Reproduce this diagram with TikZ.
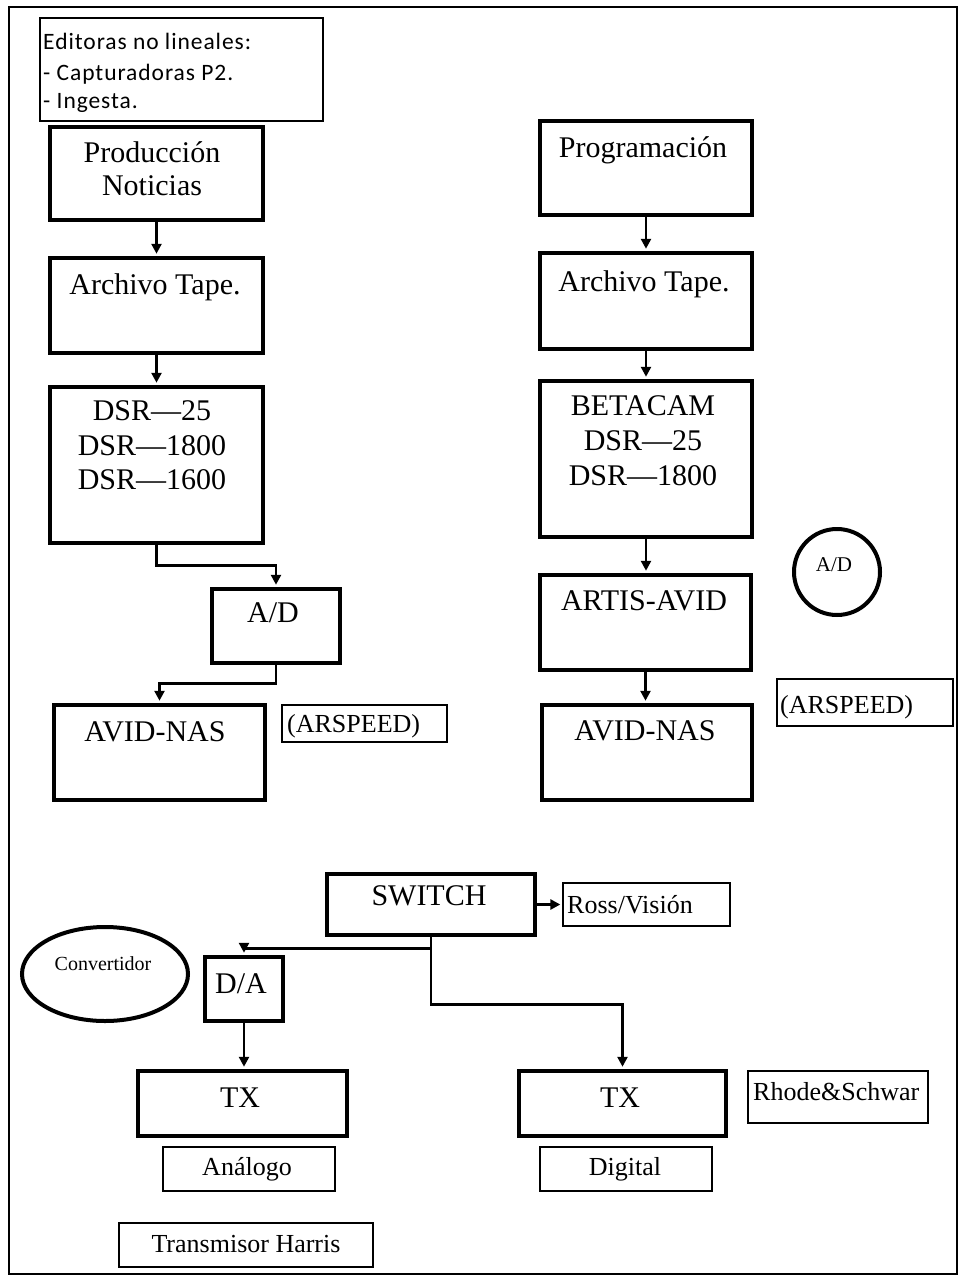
\documentclass[tikz,border=0pt]{standalone}
\usepackage{fontspec}
\setmainfont{Liberation Serif}
\newfontfamily\calfont[LetterSpace=4]{Carlito}
\usetikzlibrary{arrows.meta,fit,shapes.geometric}
\tikzset{
  tbox/.style={draw, line width=4.5pt, inner sep=0pt},
  nbox/.style={draw, line width=1.3pt, inner sep=0pt},
  arr/.style={line width=2.7pt, -{Triangle[length=10pt,width=10pt]}, shorten >=2pt},
  bigtxt/.style={font=\fontsize{30}{34}\selectfont, anchor=base, inner sep=0pt},
  medtxt/.style={font=\fontsize{26}{30}\selectfont, anchor=base, inner sep=0pt},
  medl/.style={medtxt, anchor=base west},
  smalltxt/.style={font=\fontsize{20}{24}\selectfont, anchor=base, inner sep=0pt},
  caltxt/.style={font=\calfont\fontsize{23.5}{29}\selectfont, anchor=base west, inner sep=0pt},
}
\begin{document}
\begin{tikzpicture}[x=1pt,y=-1pt]
\useasboundingbox (0,0) rectangle (959,1277);
\draw[line width=1.5pt] (9,7) rectangle (957,1274);

% thin label boxes
\node[nbox, fit={(40,18)(323,121)}] (ed) {};
\node[nbox, fit={(282,705)(447,742)}] (ars1) {};
\node[nbox, fit={(777,679)(953,726)}] (ars2) {};
\node[nbox, fit={(563,883)(730,926)}] (ross) {};
\node[nbox, fit={(748,1071)(928,1123)}] (rhode) {};
\node[nbox, fit={(163,1147)(335,1191)}] (analog) {};
\node[nbox, fit={(540,1147)(712,1191)}] (digital) {};
\node[nbox, fit={(119,1223)(373,1267)}] (harris) {};

% thick boxes
\node[tbox, fit={(50,127)(263,220)}] (prod) {};
\node[tbox, fit={(50,258)(263,353)}] (arch1) {};
\node[tbox, fit={(50,387)(263,543)}] (dsr) {};
\node[tbox, fit={(212,589)(340,663)}] (ad1) {};
\node[tbox, fit={(54,705)(265,800)}] (avid1) {};
\node[tbox, fit={(540,121)(752,215)}] (prog) {};
\node[tbox, fit={(540,253)(752,349)}] (arch2) {};
\node[tbox, fit={(540,381)(752,537)}] (beta) {};
\node[tbox, fit={(540,575)(751,670)}] (artis) {};
\node[tbox, fit={(542,705)(752,800)}] (avid2) {};
\node[tbox, fit={(327,874)(535,935)}] (sw) {};
\node[tbox, fit={(205,957)(283,1021)}] (da) {};
\node[tbox, fit={(138,1071)(347,1136)}] (tx1) {};
\node[tbox, fit={(519,1071)(726,1136)}] (tx2) {};

\node[draw, circle, line width=4pt, minimum size=86pt, inner sep=0pt] (adc) at (837,572) {};
\node[draw, ellipse, line width=4pt, minimum width=166pt, minimum height=94pt, inner sep=0pt] (conv) at (105,974) {};

% texts
\node[caltxt] (te1) at (43,49) {Editoras no lineales:};
\node[caltxt] (te2) at (43,80) {- Capturadoras P2.};
\node[caltxt] (te3) at (43,108) {- Ingesta.};

\node[bigtxt] (tprod1) at (152,162) {Producción};
\node[bigtxt] (tprod2) at (152,195) {Noticias};
\node[bigtxt] (tarch1) at (155,294) {Archivo Tape.};
\node[bigtxt] (tdsr1) at (152,420) {DSR—25};
\node[bigtxt] (tdsr2) at (152,455) {DSR—1800};
\node[bigtxt] (tdsr3) at (152,489) {DSR—1600};
\node[bigtxt] (tad1) at (273,622) {A/D};
\node[bigtxt] (tavid1) at (155,741) {AVID-NAS};
\node[medl] (tars1) at (287,732) {(ARSPEED)};

\node[bigtxt] (tprog) at (643,157) {Programación};
\node[bigtxt] (tarch2) at (644,291) {Archivo Tape.};
\node[bigtxt] (tbeta1) at (643,415) {BETACAM};
\node[bigtxt] (tbeta2) at (643,450) {DSR—25};
\node[bigtxt] (tbeta3) at (643,485) {DSR—1800};
\node[bigtxt] (tartis) at (644,610) {ARTIS-AVID};
\node[bigtxt] (tavid2) at (645,740) {AVID-NAS};
\node[medl] (tars2) at (780,713) {(ARSPEED)};
\node[smalltxt, font=\fontsize{21}{24}\selectfont] (tadc) at (834,571) {A/D};

\node[bigtxt] (tsw) at (429,905) {SWITCH};
\node[medl] (tross) at (567,913) {Ross/Visión};
\node[bigtxt] (tda) at (241,993) {D/A};
\node[smalltxt] (tconv) at (103,970) {Convertidor};
\node[bigtxt] (ttx1) at (240,1107) {TX};
\node[bigtxt] (ttx2) at (620,1107) {TX};
\node[medtxt] (tanalog) at (247,1175) {Análogo};
\node[medtxt] (tdigital) at (625,1175) {Digital};
\node[medtxt] (tharris) at (246,1252) {Transmisor Harris};
\node[medl] (trhode) at (753,1100) {Rhode\&Schwar};

% connectors
\draw[arr] (prod.south) -- (prod.south |- arch1.north);
\draw[arr] (arch1.south) -- (arch1.south |- dsr.north);
\draw[arr] (dsr.south) -- ++(0,20) -| (ad1.north);
\draw[arr] (ad1.south) -- ++(0,18) -| (avid1.north);

\draw[arr] (prog.south) -- (prog.south |- arch2.north);
\draw[arr] (arch2.south) -- (arch2.south |- beta.north);
\draw[arr] (beta.south) -- (beta.south |- artis.north);
\draw[arr] (artis.south) -- (artis.south |- avid2.north);

\draw[arr] (sw.east) -- (ross.west);
\draw[arr] (sw.south) -- ++(0,11) -| (da.north);
\draw[arr] (sw.south) -- ++(0,67) -| (tx2.north);
\draw[arr] (da.south) -- (da.south |- tx1.north);
\end{tikzpicture}
\end{document}
